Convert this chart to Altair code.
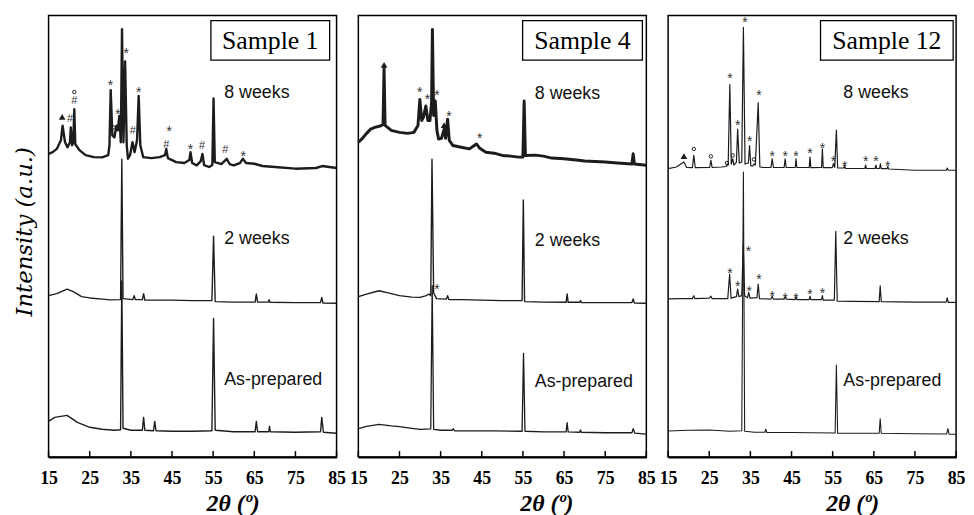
import altair as alt
import pandas as pd

# ------------------------------------------------------------------ data
tick_values = [15, 25, 35, 45, 55, 65, 75, 85]

# (2theta, intensity a.u. incl. vertical offset)
s1_prep = [(15,36),(16.5,40),(19.5,42),(22,35),(25,30),(28,28),(31,27),(32.5,27.5),(32.8,178),(33.1,29),
           (35,27),(37.8,27),(38.1,40),(38.4,27),(40.5,26.5),(40.8,36),(41.1,26.5),(45,26),(50,26),(54.7,26.5),
           (55.1,140),(55.5,27),(60,25.5),(65.2,25.5),(65.5,36),(65.8,25.5),(68.5,25.5),(68.7,31),(68.9,25.5),
           (75,25),(81.1,25.5),(81.4,40),(81.8,25),(85,24)]
s1_2w = [(15,163),(17,165),(19.5,169.7),(21,167),(23,162),(25,160.7),(28,159.5),(30,158.7),(32.5,159),(32.8,301),
         (33.1,160),(35.5,159),(35.8,163),(36.1,159),(37.8,159),(38.1,165),(38.4,158.5),(45,158.5),(50,158),
         (54.7,158),(55.1,223),(55.5,157),(60,156.5),(65.2,156.5),(65.5,164.7),(65.8,156.5),(68.4,156.5),
         (68.6,159),(68.8,156.3),(75,156),(81.1,156),(81.4,161.3),(81.7,155.5),(85,155.3)]
s1_8w = [(15,306.3),(16,308),(17,311.3),(18,320),(18.4,334.7),(19.0,318),(19.6,313),(20.2,318),(20.4,333),
         (20.7,315),(21.0,318),(21.25,351.3),(21.5,316),(22.5,310),(24,305),(26,303),(28,302.7),(29.5,305),
         (29.8,315),(30.1,370.7),(30.5,325),(31.0,323),(31.5,334.7),(31.8,330),(32.2,344.7),(32.55,318),
         (32.85,432.3),(33.2,318),(33.6,399.7),(34.0,315),(34.3,301.3),(34.8,305),(35.4,318),(35.9,308),
         (36.5,320),(36.9,364.7),(37.3,315),(38,303),(40,302),(42,303),(43.3,305),(43.6,311.3),(44,302),
         (46,298),(48,297),(49.2,300),(49.5,308),(49.9,297),(51,294.7),(52,299),(52.4,306.3),(52.8,295),
         (54,293),(54.8,295),(55.1,362.3),(55.4,298),(57,296),(58.3,301.3),(59,296),(60,294.7),(61.5,297),
         (62.2,301.3),(63,297),(65,296.3),(67,294),(70,293),(75,291.3),(80,292),(81.5,294),(85,292)]

s4_prep = [(15,28.7),(17,31),(20,33),(23,31.5),(25,30.7),(28,29),(30,28),(32.6,28.5),(32.95,173),(33.3,28),
           (35,27),(37.8,27),(38.1,28.5),(38.4,26.5),(42,26.3),(48,26.3),(54.8,26),(55.15,104.7),(55.5,26),
           (60,25.3),(65.5,25.3),(65.75,34.7),(66.0,25.3),(68.8,25),(69.0,27.3),(69.2,25),(75,24.5),
           (81.5,24.5),(81.8,28.7),(82.2,24),(85,23)]
s4_2w = [(15,162),(17,164.5),(20,168),(22,166),(25,163),(28,161.5),(30,161.3),(31.5,163),(32.2,164.7),
         (32.6,163),(32.9,301),(33.3,166),(34,160),(36.4,159.5),(36.7,163),(37,159),(40,159),(45,158.5),
         (50,158),(54.8,158),(55.1,259.7),(55.4,157),(60,156.5),(65.5,156.3),(65.75,164.7),(66.0,156.3),
         (68.8,156.3),(69,158),(69.2,156),(75,156),(81.5,156),(81.8,159.7),(82.1,155.5),(85,155.3)]
s4_8w = [(15,318),(16,322),(17,327),(18,331.3),(19,333),(20.5,334.7),(21.0,336),(21.25,393),(21.5,335),
         (23,330),(25,328),(27,327),(28.5,328),(29.5,335),(29.95,361.3),(30.4,340),(30.8,343),(31.4,354.7),
         (31.9,340),(32.4,340),(32.8,358),(33.0,432),(33.3,345),(33.7,359.7),(34.1,330),(34.5,321.3),
         (35.2,322),(35.85,331.3),(36.2,322),(36.7,341.3),(37.1,320),(38,314.7),(40,313),(42,311.3),
         (43.7,316.3),(44.5,312),(46,308),(48,307),(50,304.7),(52,304),(54,303),(55.0,303),(55.3,359.7),
         (55.6,304.7),(58,305),(60,304),(62,302),(65,301.3),(68,300),(70,299),(75,298),(78,297),(81.5,296),
         (81.8,306.3),(82.1,296),(85,294.7)]

s12_prep = [(15,26.3),(20,27),(25,27.3),(30,26),(32.9,26.5),(33.3,288),(33.6,26),(36,25),(38.5,25),
            (38.75,28),(39.0,24.7),(45,24.7),(50,24.5),(55.6,24.3),(55.9,93),(56.2,24),(60,24),(66.3,24),
            (66.55,38.7),(66.8,24),(75,23.5),(82.7,23.3),(83.0,28.7),(83.3,23),(85,23)]
s12_2w = [(15,159.7),(18,160),(20.9,160),(21.25,163),(21.5,160),(25,160.5),(25.4,162.5),(25.7,160),
          (29.5,160),(29.95,184.7),(30.3,160.5),(31.6,162),(31.9,169.7),(32.2,162),(32.9,163),(33.25,215),
          (33.6,163),(34.3,161),(34.6,166.3),(34.9,160.5),(36.6,161),(36.9,174.7),(37.2,160),(40.0,159.5),
          (40.3,162.5),(40.6,159.5),(43.2,159.5),(43.45,162),(43.7,159.5),(45.9,159),(46.1,162),(46.3,159),
          (49.3,159),(49.5,162.5),(49.7,159),(52.3,159),(52.5,163),(52.7,158.5),(55.4,158.5),(55.75,228),
          (56.1,157.5),(60,157.3),(66.3,157),(66.55,173),(66.8,157),(75,156.5),(82.6,156.5),(82.85,160.7),
          (83.1,156.3),(85,156.3)]
s12_8w = [(15,291.3),(17,293),(18.85,298),(19.5,292.5),(20.9,292.3),(21.25,304.7),(21.6,292.3),(25.1,292.5),
          (25.4,299.7),(25.7,292.5),(28,293),(29.2,293.5),(29.35,296),(29.6,295),(30.0,376.3),(30.35,296),
          (30.7,301.3),(31.0,295),(31.6,298),(31.9,331.3),(32.3,297),(32.9,298),(33.3,434),(33.7,296),
          (34.5,297),(34.8,314.7),(35.1,294),(35.6,294),(35.85,296),(36.2,295),(36.9,358),(37.3,293),
          (38,292.7),(40.0,292.5),(40.3,301.3),(40.6,292.5),(43.2,292.5),(43.45,301.3),(43.7,292.5),
          (45.9,292.5),(46.1,301.3),(46.3,292.5),(49.3,292.5),(49.5,303),(49.7,292.3),(52.3,292.5),
          (52.5,311.3),(52.7,292.3),(54.9,292.3),(55.2,296.5),(55.5,292.5),(55.9,330.3),(56.2,292),
          (57.7,292),(57.9,294.7),(58.1,291.5),(62.8,291.5),(63.0,295),(63.2,291.5),(65.3,291.5),(65.5,295),
          (65.7,291.5),(66.4,291.5),(66.6,296.3),(66.8,291.3),(68.2,291.3),(68.4,293.5),(68.6,291),(75,289.7),
          (82.6,289.7),(82.85,292),(83.1,289.7),(85,289.7)]

# phase markers: (symbol, 2theta, intensity)   ^ = triangle, o = small circle
m1 = [("^",18.3,343.7),("#",20.2,341.3),("o",21.25,368.7),("#",21.25,359.7),("*",30.06,378),("o",30.78,333),
      ("*",31.84,349),("*",33.84,409.7),("#",35.45,329.7),("*",36.9,370.7),("#",43.6,315),("*",44.3,331),
      ("*",49.5,313),("#",52.3,314),("#",57.96,309.7),("*",62.3,305.7)]
m4 = [("^",21.25,396.3),("*",29.9,370.7),("*",31.8,363.7),("*",34.1,367.3),("^",35.85,335.3),
      ("*",37.05,346.3),("*",44.5,324),("*",34.1,172)]
m12 = [("^",18.85,304),("o",21.25,311.3),("o",25.4,303.7),("o",29.3,297),("*",30.0,384.7),("o",30.7,304.7),
       ("*",31.9,337.3),("*",33.7,441),("*",34.8,321.3),("o",35.85,300.7),("*",37.05,367.3),("*",40.3,306.3),
       ("*",43.45,306.3),("*",46.1,306.3),("*",49.5,308.7),("*",52.5,314),("*",55.2,301.3),("*",57.9,296.3),
       ("*",63.0,301.3),("*",65.5,301.3),("*",68.4,295.7),
       ("*",30.0,188),("*",31.9,174.7),("*",34.5,209.7),("*",34.7,169.7),("*",37.05,182),("*",40.3,164.7),
       ("*",43.45,163),("*",46.1,163),("*",49.5,166.3),("*",52.5,168)]

series_names = ["As-prepared", "2 weeks", "8 weeks"]
lab1 = [(57.7, 78), (57.7, 220.7), (57.7, 368)]
lab4 = [(57.9, 75.7), (57.9, 218), (57.9, 366.3)]
lab12 = [(57.6, 76.3), (57.6, 220.7), (57.6, 367.3)]

sample_titles = ["Sample 1", "Sample 4", "Sample 12"]

# ------------------------------------------------------------------ chart
INK = "#1c1c1c"
W, H = 291, 446
X_SCALE = alt.Scale(domain=[15, 85], nice=False, zero=False)
Y_SCALE = alt.Scale(domain=[0, 446], nice=False, zero=False)


def make_panel(title, traces, widths, markers, labels, box, title_x, ytitle):
    x_axis = alt.Axis(values=tick_values, ticks=False, grid=False, labelFlush=False, labelOverlap=False,
                      labelFont="Liberation Serif", labelFontWeight="bold", labelFontSize=18,
                      labelColor="black", labelPadding=13, domainColor="black", domainWidth=2,
                      title="2θ (º)", titleFont="Liberation Serif", titleFontStyle="italic",
                      titleFontWeight="bold", titleFontSize=24, titleColor="black",
                      titleX=title_x, titleY=47, titleBaseline="middle", titleAlign="center")
    if ytitle:
        y_axis = alt.Axis(title="Intensity (a.u.)", labels=False, ticks=False, domain=False, grid=False,
                          titleFont="DejaVu Serif", titleFontStyle="italic", titleFontWeight="normal",
                          titleFontSize=23, titleColor="black", titleX=-24, titleY=218,
                          titleAngle=-90, titleAlign="center", titleBaseline="middle")
    else:
        y_axis = None
    X = alt.X("tt:Q", scale=X_SCALE, axis=x_axis)
    Y = alt.Y("I:Q", scale=Y_SCALE, axis=y_axis)

    layers = []
    for pairs, name, sw in zip(traces, series_names, widths):
        df = pd.DataFrame(pairs, columns=["tt", "I"]).assign(series=name)
        layers.append(alt.Chart(df).mark_line(color=INK, strokeWidth=sw, strokeJoin="round")
                      .encode(x=X, y=Y))

    tick_df = pd.DataFrame({"tt": tick_values, "I": [0] * len(tick_values), "I2": [6] * len(tick_values)})
    layers.append(alt.Chart(tick_df).mark_rule(color="black", strokeWidth=1.5)
                  .encode(x=X, y=Y, y2=alt.Y2("I2:Q")))

    mdf = pd.DataFrame(markers, columns=["sym", "tt", "I"])
    base = alt.Chart(mdf)
    layers.append(base.transform_filter(alt.datum.sym == "*")
                  .mark_text(font="Liberation Sans", fontSize=14, dy=3, color="#333")
                  .encode(x=X, y=Y, text="sym:N"))
    if (mdf.sym == "#").any():
        layers.append(base.transform_filter(alt.datum.sym == "#")
                      .mark_text(font="Liberation Sans", fontSize=11, color="#333")
                      .encode(x=X, y=Y, text="sym:N"))
    layers.append(base.transform_filter(alt.datum.sym == "^")
                  .mark_point(shape="triangle-up", filled=True, size=45, color=INK, opacity=1)
                  .encode(x=X, y=Y))
    if (mdf.sym == "o").any():
        layers.append(base.transform_filter(alt.datum.sym == "o")
                      .mark_point(shape="circle", filled=False, size=12, strokeWidth=1, color=INK, opacity=1)
                      .encode(x=X, y=Y))

    ldf = pd.DataFrame(labels, columns=["tt", "I"]).assign(label=series_names)
    layers.append(alt.Chart(ldf).mark_text(align="left", baseline="middle", font="Liberation Sans",
                                           fontSize=18, color="#111")
                  .encode(x=X, y=Y, text="label:N"))

    x0, x1, y0, y1 = box
    tdf = pd.DataFrame({"t": [title]})
    layers.append(alt.Chart(tdf).mark_rect(fill="white", stroke="black", strokeWidth=1.3)
                  .encode(x=alt.value(x0), x2=alt.value(x1), y=alt.value(y0), y2=alt.value(y1)))
    layers.append(alt.Chart(tdf).mark_text(font="Liberation Serif", fontSize=26, baseline="middle",
                                           align="center", color="black")
                  .encode(x=alt.value((x0 + x1) / 2), y=alt.value((y0 + y1) / 2 + 1), text="t:N"))

    return alt.layer(*layers).properties(width=W, height=H)


p1 = make_panel(sample_titles[0], [s1_prep, s1_2w, s1_8w], [1.4, 1.4, 2.4], m1, lab1,
                (164, 284, 5, 45), 186, True)
p4 = make_panel(sample_titles[1], [s4_prep, s4_2w, s4_8w], [1.3, 1.4, 3.0], m4, lab4,
                (166, 287, 5, 45), 190, False)
p12 = make_panel(sample_titles[2], [s12_prep, s12_2w, s12_8w], [1.1, 1.2, 1.2], m12, lab12,
                 (154, 288, 5, 45), 186, False)

chart = (alt.hconcat(p1, p4, p12, spacing=22, bounds="flush")
         .properties(padding={"left": 5, "top": 4, "right": 0, "bottom": 0}, background="white")
         .configure_view(stroke="black", strokeWidth=1.5))

chart.save("out.html", embed_options={"renderer": "svg", "actions": False})
